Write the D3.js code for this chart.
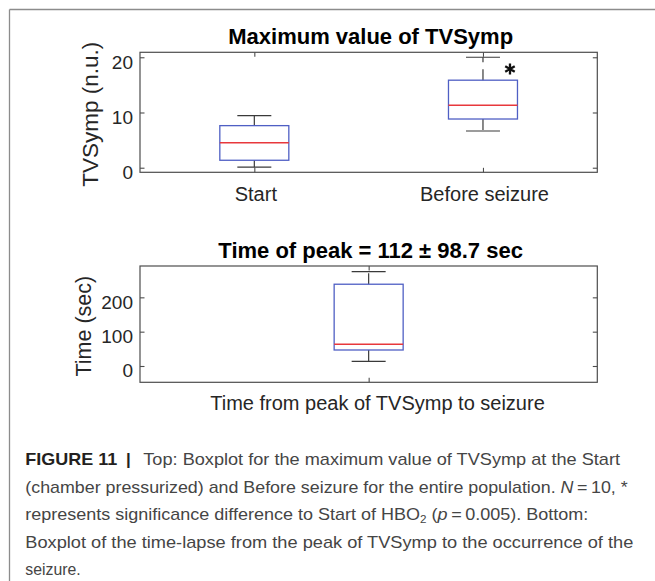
<!DOCTYPE html>
<html>
<head>
<meta charset="utf-8">
<script src="https://cdn.jsdelivr.net/npm/d3@7"></script>
<style>
  html, body { margin: 0; padding: 0; background: #fff; }
  svg { display: block; font-family: "Liberation Sans", Arial, Helvetica, sans-serif; }
</style>
</head>
<body>
<svg id="chart" width="655" height="581"></svg>
<script>
// ---------------- data ----------------
const topCategories = ["Start", "Before seizure"];
const topMin    = [0.1, 6.65];
const topQ1     = [1.35, 8.82];
const topMedian = [4.53, 11.3];
const topQ3     = [7.62, 15.85];
const topMax    = [9.42, 20.0];
const topYTicks = [0, 10, 20];
const topYDomain = [-0.83, 20.9];

const bottomCategories = ["peak-to-seizure"];
const bottomMin    = [13.6];
const bottomQ1     = [46.6];
const bottomMedian = [63.2];
const bottomQ3     = [238.2];
const bottomMax    = [275];
const bottomYTicks = [0, 100, 200];
const bottomYDomain = [-47.5, 291.3];

const topTitle = "Maximum value of TVSymp";
const topYLabel = "TVSymp (n.u.)";
const bottomTitle = "Time of peak = 112 \u00B1 98.7 sec";
const bottomYLabel = "Time (sec)";
const bottomXLabel = "Time from peak of TVSymp to seizure";
const significantIndex = 1; // "Before seizure" marked with *

// ---------------- drawing ----------------
const svg = d3.select("#chart");
const axisColor = "#4d4d4d";
const labelColor = "#262626";

// figure frame
svg.append("line").attr("x1", 9.5).attr("x2", 655).attr("y1", 9.5).attr("y2", 9.5)
  .attr("stroke", "#8c8c8c").attr("stroke-width", 1.3);
svg.append("line").attr("x1", 9.5).attr("x2", 9.5).attr("y1", 9.5).attr("y2", 581)
  .attr("stroke", "#8c8c8c").attr("stroke-width", 1.3);

function boxPanel(opts) {
  const {left, right, top, bottom, cats, mins, q1s, meds, q3s, maxs, yTicks, yDomain,
         showXTicks, title, yLabel, yLabelX, yLabelSize} = opts;
  const x = d3.scalePoint().domain(cats).range([left, right]).padding(0.5);
  const y = d3.scaleLinear().domain(yDomain).range([bottom, top]);
  const g = svg.append("g");
  const tick = 4.5;

  // y axis (left) with inward ticks
  const yAx = g.append("g").attr("transform", `translate(${left},0)`)
    .call(d3.axisLeft(y).tickValues(yTicks).tickSize(-tick).tickPadding(7).tickFormat(d3.format("d")));
  yAx.select(".domain").remove();
  yAx.selectAll("line").attr("stroke", axisColor).attr("stroke-width", 1.1);
  yAx.selectAll("text").attr("fill", labelColor).attr("font-size", 19)
    .attr("font-family", "Liberation Sans, Arial, sans-serif")
    .attr("y", 4).attr("dy", "0.36em");

  // y axis (right) ticks
  const yAxR = g.append("g").attr("transform", `translate(${right},0)`)
    .call(d3.axisRight(y).tickValues(yTicks).tickSize(-tick).tickFormat(""));
  yAxR.select(".domain").remove();
  yAxR.selectAll("line").attr("stroke", axisColor).attr("stroke-width", 1.1);

  // x axis bottom
  const xAx = g.append("g").attr("transform", `translate(0,${bottom})`)
    .call(d3.axisBottom(x).tickSize(-tick).tickPadding(14.5).tickFormat(showXTicks ? (d => d) : ""));
  xAx.select(".domain").remove();
  xAx.selectAll("line").attr("stroke", axisColor).attr("stroke-width", 1.1);
  xAx.selectAll("text").attr("fill", labelColor).attr("font-size", 20)
    .attr("font-family", "Liberation Sans, Arial, sans-serif")
    .attr("dy", "0.71em").attr("x", 1);

  // x axis top ticks
  const xAxT = g.append("g").attr("transform", `translate(0,${top})`)
    .call(d3.axisTop(x).tickSize(-tick).tickFormat(""));
  xAxT.select(".domain").remove();
  xAxT.selectAll("line").attr("stroke", axisColor).attr("stroke-width", 1.1);

  // axes box
  g.append("rect").attr("x", left).attr("y", top)
    .attr("width", right - left).attr("height", bottom - top)
    .attr("fill", "none").attr("stroke", axisColor).attr("stroke-width", 1.2);

  const boxW = 69, capW = 34;
  const data = cats.map((c, i) => ({c, min: mins[i], q1: q1s[i], med: meds[i], q3: q3s[i], max: maxs[i]}));
  const bx = g.selectAll("g.box").data(data).join("g").attr("class", "box");
  // whiskers (dashed, from box edge outward)
  bx.append("line").attr("x1", d => x(d.c)).attr("x2", d => x(d.c))
    .attr("y1", d => y(d.q3)).attr("y2", d => y(d.max))
    .attr("stroke", "#3a3a3a").attr("stroke-width", 1.2).attr("stroke-dasharray", "11,7");
  bx.append("line").attr("x1", d => x(d.c)).attr("x2", d => x(d.c))
    .attr("y1", d => y(d.q1)).attr("y2", d => y(d.min))
    .attr("stroke", "#3a3a3a").attr("stroke-width", 1.2).attr("stroke-dasharray", "11,7");
  // caps
  bx.append("line").attr("x1", d => x(d.c) - capW / 2).attr("x2", d => x(d.c) + capW / 2)
    .attr("y1", d => y(d.max)).attr("y2", d => y(d.max))
    .attr("stroke", "#3a3a3a").attr("stroke-width", 1.2);
  bx.append("line").attr("x1", d => x(d.c) - capW / 2).attr("x2", d => x(d.c) + capW / 2)
    .attr("y1", d => y(d.min)).attr("y2", d => y(d.min))
    .attr("stroke", "#3a3a3a").attr("stroke-width", 1.2);
  // box
  bx.append("rect").attr("x", d => x(d.c) - boxW / 2).attr("y", d => y(d.q3))
    .attr("width", boxW).attr("height", d => y(d.q1) - y(d.q3))
    .attr("fill", "none").attr("stroke", "#4f5fc4").attr("stroke-width", 1.3);
  // median
  bx.append("line").attr("x1", d => x(d.c) - boxW / 2).attr("x2", d => x(d.c) + boxW / 2)
    .attr("y1", d => y(d.med)).attr("y2", d => y(d.med))
    .attr("stroke", "#e8383c").attr("stroke-width", 1.4);

  // title
  g.append("text").attr("x", (left + right) / 2 + 2).attr("y", top - 8.5)
    .attr("text-anchor", "middle").attr("font-weight", "bold").attr("font-size", 22)
    .attr("fill", "#000").text(title);
  // y label
  g.append("text")
    .attr("transform", `translate(${yLabelX},${(top + bottom) / 2 + 2}) rotate(-90)`)
    .attr("text-anchor", "middle").attr("font-size", yLabelSize).attr("fill", labelColor)
    .text(yLabel);
  return {x, y, g};
}

const topPanel = boxPanel({
  left: 140, right: 597.3, top: 52.3, bottom: 172.3,
  cats: topCategories, mins: topMin, q1s: topQ1, meds: topMedian, q3s: topQ3, maxs: topMax,
  yTicks: topYTicks, yDomain: topYDomain, showXTicks: true,
  title: topTitle, yLabel: topYLabel, yLabelX: 97.5, yLabelSize: 22.5
});

// significance asterisk
const sigCat = topCategories[significantIndex];
topPanel.g.append("path")
  .attr("d", d3.symbol().type(d3.symbolAsterisk).size(85)())
  .attr("transform", `translate(${topPanel.x(sigCat) + 27},${topPanel.y(topMax[significantIndex]) + 11.7})`)
  .attr("fill", "none").attr("stroke", "#111").attr("stroke-width", 2.3);

const bottomPanel = boxPanel({
  left: 140, right: 597.3, top: 266, bottom: 382.3,
  cats: bottomCategories, mins: bottomMin, q1s: bottomQ1, meds: bottomMedian, q3s: bottomQ3, maxs: bottomMax,
  yTicks: bottomYTicks, yDomain: bottomYDomain, showXTicks: false,
  title: bottomTitle, yLabel: bottomYLabel, yLabelX: 90.5, yLabelSize: 21.5
});
bottomPanel.g.append("text").attr("x", 377.5).attr("y", 410)
  .attr("text-anchor", "middle").attr("font-size", 20).attr("fill", labelColor)
  .text(bottomXLabel);

// ---------------- caption ----------------
const capFont = 17, capColor = "#454545";
const cap = svg.append("g").attr("font-size", capFont).attr("fill", capColor);
const lineY = [465, 492.5, 520, 547.5, 575];

cap.append("text").attr("x", 25.3).attr("y", lineY[0]).attr("font-weight", "bold")
  .attr("fill", "#231f20").attr("textLength", 92).attr("lengthAdjust", "spacingAndGlyphs")
  .text("FIGURE 11");
cap.append("text").attr("x", 128.3).attr("y", lineY[0]).attr("text-anchor", "middle")
  .attr("fill", "#231f20").attr("font-weight", "bold").text("|");
cap.append("text").attr("x", 143.3).attr("y", lineY[0])
  .attr("textLength", 476.7).attr("lengthAdjust", "spacingAndGlyphs")
  .text("Top: Boxplot for the maximum value of TVSymp at the Start");

const l2 = cap.append("text").attr("x", 25.3).attr("y", lineY[1])
  .attr("textLength", 602.4).attr("lengthAdjust", "spacingAndGlyphs");
l2.append("tspan").text("(chamber pressurized) and Before seizure for the entire population. ");
l2.append("tspan").attr("font-style", "italic").text("N");
l2.append("tspan").text("\u2009=\u200910, *");

const l3 = cap.append("text").attr("x", 25.3).attr("y", lineY[2])
  .attr("textLength", 563).attr("lengthAdjust", "spacingAndGlyphs");
l3.append("tspan").text("represents significance difference to Start of HBO");
l3.append("tspan").attr("font-size", 11).attr("dy", 3).text("2");
l3.append("tspan").attr("dy", -3).text(" (");
l3.append("tspan").attr("font-style", "italic").text("p");
l3.append("tspan").text("\u2009=\u20090.005). Bottom:");

cap.append("text").attr("x", 25.3).attr("y", lineY[3])
  .attr("textLength", 608).attr("lengthAdjust", "spacingAndGlyphs")
  .text("Boxplot of the time-lapse from the peak of TVSymp to the occurrence of the");
cap.append("text").attr("x", 25.3).attr("y", lineY[4])
  .attr("textLength", 55.4).attr("lengthAdjust", "spacingAndGlyphs")
  .text("seizure.");
</script>
</body>
</html>
